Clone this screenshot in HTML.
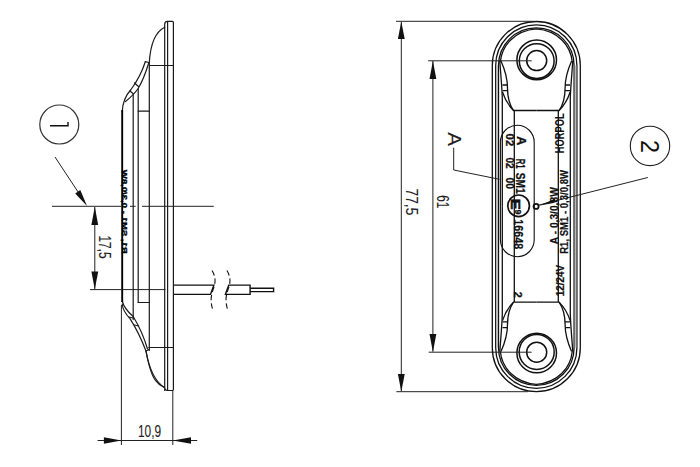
<!DOCTYPE html>
<html><head><meta charset="utf-8">
<style>
html,body{margin:0;padding:0;background:#fff;width:700px;height:467px;overflow:hidden}
svg{display:block}
text{font-family:"Liberation Sans",sans-serif;fill:#111}
text.dim{fill:#1e1e1e;stroke:#1e1e1e;stroke-width:0.12}
</style></head><body>
<svg width="700" height="467" viewBox="0 0 700 467">
<rect width="700" height="467" fill="#fff"/>
<!-- ================= LEFT VIEW ================= -->
<g fill="none" stroke="#1a1a1a" stroke-width="1.2" stroke-linecap="round">
  <!-- flange -->
  <path d="M164.7,390.5 L164.7,24.2 Q164.7,21.4 167.6,21.4 L172.4,21.4 Q173.4,21.4 173.4,22.4 L173.4,389.5 Q173.4,390.5 172.4,390.5 L167.6,390.5 Q164.7,390.5 164.7,387.6"/>
  <line x1="167.6" y1="21.4" x2="167.6" y2="390.5"/>
  <!-- upper arc -->
  <path d="M164.7,27.2 C157,31 150.5,42 149.3,62.5"/>
  <line x1="149.3" y1="65.5" x2="173.4" y2="65.5"/>
  <line x1="149.3" y1="62.5" x2="149.3" y2="350.5"/>
  <line x1="148.8" y1="347.5" x2="173.4" y2="347.5"/>
  <!-- lower arc -->
  <path d="M146,351 C149,368 154,381 164.5,387.5"/>
  <!-- inner verticals -->
  <line x1="138.2" y1="88.7" x2="138.2" y2="302.5"/>
  <line x1="138.2" y1="111.2" x2="149.3" y2="111.2"/>
  <line x1="138.2" y1="302.5" x2="149.3" y2="302.5"/>
  <line x1="133.2" y1="95" x2="133.2" y2="319.6"/>
  <!-- upper tab / curve -->
  <path d="M145.3,61.7 C142,72 138,80 131,89.5 C126,95 122.5,101 122.2,112"/>
  <path d="M148.7,63 C146,72 142,82 138.2,88.5 C135,93 131,97 125.5,101.5"/>
  <line x1="145.3" y1="61.7" x2="148.7" y2="62.5"/>
  <line x1="134.5" y1="83" x2="138.5" y2="86.5"/>
  <line x1="130" y1="91" x2="133.5" y2="94"/>
  <!-- lower tab / curve -->
  <path d="M122.2,304 C122.8,311 126.5,315 130,318.6 C136,328 141,338 146,351 C148,362 151,375 155.7,380.7 C158,384 161,386 164.3,387.5"/>
  <path d="M122.2,301 C124,308 128.5,312.5 133.2,316.5 C139,326 144,337 147.5,349"/>
  <line x1="146" y1="351" x2="149" y2="349.5"/>
  <line x1="129" y1="317" x2="133" y2="318"/>
  <line x1="134.5" y1="325" x2="138.5" y2="326"/>
</g>
<!-- text strip on left view -->
<g>
  <path d="M122.2,110 L122.2,302" stroke="#000" stroke-width="1.9" fill="none"/>
  <text transform="translate(122.3,253.8) rotate(-90) scale(1,-1)" font-size="7.6" font-weight="bold" textLength="84" lengthAdjust="spacingAndGlyphs" style="fill:#000;stroke:#000;stroke-width:0.35">R1, SM1 - 0,3/0,8W</text>
</g>
<!-- left dims -->
<g fill="none" stroke="#222" stroke-width="1">
  <line x1="52" y1="206.3" x2="121.2" y2="206.3"/>
  <line x1="130" y1="206.3" x2="135.6" y2="206.3"/>
  <line x1="142" y1="206.3" x2="213.8" y2="206.3"/>
  <line x1="90" y1="289.6" x2="165.5" y2="289.6"/>
  <line x1="94.8" y1="207" x2="94.8" y2="289"/>
  <line x1="121.4" y1="305" x2="121.4" y2="445"/>
  <line x1="172.8" y1="391" x2="172.8" y2="445"/>
  <line x1="97.6" y1="440.5" x2="197.2" y2="440.5"/>
  <line x1="55" y1="157" x2="84" y2="201"/>
</g>
<g fill="#111" stroke="none">
  <polygon points="94.8,206.7 91.4,224.9 98.2,224.9"/>
  <polygon points="94.8,289.6 91.4,271.5 98.2,271.5"/>
  <polygon points="121.4,440.5 103.9,437.3 103.9,443.7"/>
  <polygon points="172.8,440.5 191,437.3 191,443.7"/>
  <polygon points="87,205.9 80.3,190 75.2,193.4"/>
</g>
<circle cx="59.3" cy="124.5" r="19.5" fill="none" stroke="#333" stroke-width="1.2"/>
<path d="M50,125.7 L68,125.7 L68,121.9" fill="none" stroke="#111" stroke-width="1.4"/>
<text class="dim" transform="translate(98.8,235.4) rotate(90)" font-size="15.8" textLength="23.3" lengthAdjust="spacingAndGlyphs">17,5</text>
<text class="dim" x="138" y="436.9" font-size="17.4" textLength="23.1" lengthAdjust="spacingAndGlyphs">10,9</text>
<!-- cable -->
<g fill="none" stroke="#111" stroke-width="1.4" stroke-linejoin="miter">
  <path d="M173.9,285.1 L213.9,285.1 L210.5,294.4 L173.9,294.4"/>
  <path d="M228.7,285.1 L250.1,285.1 L250.1,294.4 L225.4,294.4 Z"/>
  <path d="M250.1,288.3 L273.6,288.3 L273.6,291.6 L250.1,291.6"/>
  <path d="M212,270.5 C215.5,276 215.8,282 214,287 C211.5,294 209.5,300 213,310.5" stroke-width="1.1" stroke-dasharray="5.5 3"/>
  <path d="M226.9,270.5 C230.4,276 230.7,282 228.9,287 C226.4,294 224.4,300 227.9,310.5" stroke-width="1.1" stroke-dasharray="5.5 3"/>
</g>

<!-- ================= RIGHT VIEW ================= -->
<g fill="none" stroke="#111" stroke-width="1.3">
  <!-- outer stadium contours -->
  <path d="M492.3,65.5 A44,44 0 0 1 580.3,65.5 L580.3,347.7 A44,44 0 0 1 492.3,347.7 Z"/>
  <path d="M495.7,65.5 A40.6,40.6 0 0 1 576.9,65.5 L576.9,347.7 A40.6,40.6 0 0 1 495.7,347.7 Z"/>
  <path d="M498.5,65.5 C498.5,44.7 515.4,27.9 536.3,27.9 C557.2,27.9 574.1,44.7 574.1,65.5 L574.1,347.7 C574.1,368.5 557.2,385.3 536.3,385.3 C515.4,385.3 498.5,368.5 498.5,347.7 Z"/>
  <path d="M500.3,62 C502,45 515,30.5 536.3,28.8 C557.6,30.5 570.6,45 572.3,62"/>
  <path d="M500.3,351.2 C502,368.2 515,382.7 536.3,384.4 C557.6,382.7 570.6,368.2 572.3,351.2"/>
  <line x1="497.1" y1="65.5" x2="497.1" y2="347.7" stroke="#bbb" stroke-width="1.6"/>
  <line x1="575.5" y1="65.5" x2="575.5" y2="347.7" stroke="#bbb" stroke-width="1.6"/>
  <!-- holes -->
  <g stroke-width="1.5">
  <circle cx="536.7" cy="59.9" r="19.8"/>
  <circle cx="536.7" cy="61.1" r="17.4"/>
  <circle cx="536.7" cy="60.6" r="10"/>
  <circle cx="536.7" cy="353" r="19.8"/>
  <circle cx="536.7" cy="351.9" r="17.5"/>
  <circle cx="536.7" cy="352.2" r="10"/>
  </g>
  <!-- lobes (top-left defined, mirrored) -->
  <g id="lobe">
    <path d="M499.8,61 C500.8,75 502,88 502.3,98 L502.3,206.3"/>
    <path d="M501,61 C505,70 507.5,80 507.5,88 C507.5,97 509,104 513.5,110.5 L536.3,110.5"/>
    <path d="M502.5,92 C505,100 509,106 513.5,110.5"/>
    <path d="M502.5,85 L507.5,85 M502.5,90.7 L507.7,90.7"/>
    <line x1="514.3" y1="110.5" x2="514.3" y2="206.3"/>
  </g>
  <use href="#lobe" transform="translate(1072.6,0) scale(-1,1)"/>
  <use href="#lobe" transform="translate(0,412.6) scale(1,-1)"/>
  <use href="#lobe" transform="translate(1072.6,412.6) scale(-1,-1)"/>
  <!-- oval label -->
  <path d="M500.4,142.2 A16.9,16.9 0 0 1 534.2,142.2 L534.2,239.8 A16.9,16.9 0 0 1 500.4,239.8 Z" stroke-width="1.1"/>
  <circle cx="518.6" cy="205.8" r="10.8" stroke-width="1.7"/>
  <circle cx="536.1" cy="206.4" r="2.5" stroke-width="1.8"/>
</g>
<!-- right dims -->
<g fill="none" stroke="#222" stroke-width="1">
  <line x1="396" y1="21.3" x2="534" y2="21.3"/>
  <line x1="396.4" y1="391.7" x2="527.8" y2="391.7"/>
  <line x1="428.2" y1="60.8" x2="531.7" y2="60.8"/>
  <line x1="428.7" y1="352.2" x2="531.7" y2="352.2"/>
  <line x1="401.3" y1="22" x2="401.3" y2="391"/>
  <line x1="432.9" y1="61" x2="432.9" y2="351.5"/>
  <path d="M453.7,147.7 L453.7,170 L499.5,179.3"/>
  <line x1="539" y1="205" x2="647.8" y2="177.5"/>
</g>
<g fill="#111">
  <polygon points="401.3,21.5 397.9,39 404.7,39"/>
  <polygon points="401.3,391.7 397.9,374 404.7,374"/>
  <polygon points="432.9,60.8 429.5,79 436.3,79"/>
  <polygon points="432.9,352.2 429.5,334 436.3,334"/>
  <polygon points="539,205.8 555.5,198.4 554.6,202.8"/>
</g>
<circle cx="650" cy="145.9" r="19.7" fill="none" stroke="#222" stroke-width="1.1"/>
<text class="dim" transform="translate(405.8,188.5) rotate(90)" font-size="15.8" textLength="26.8" lengthAdjust="spacingAndGlyphs">77,5</text>
<text class="dim" transform="translate(437,195.2) rotate(90)" font-size="16.6" textLength="13.2" lengthAdjust="spacingAndGlyphs">61</text>
<text class="dim" transform="translate(448.4,132.3) rotate(90)" font-size="18" textLength="13.8" lengthAdjust="spacingAndGlyphs">A</text>
<text transform="translate(640.3,140) rotate(90)" font-size="26" textLength="13" lengthAdjust="spacingAndGlyphs" dy="-1">2</text>
<!-- label texts -->
<g font-size="12" style="stroke:#111;stroke-width:0.3">
  <text transform="translate(516.6,136.2) rotate(90)" font-size="12.3" font-weight="bold" textLength="9" lengthAdjust="spacingAndGlyphs">A</text>
  <text transform="translate(516.3,158.7) rotate(90)" font-size="12.3" font-weight="bold" textLength="9.8" lengthAdjust="spacingAndGlyphs">R1</text>
  <text transform="translate(516.3,172.7) rotate(90)" font-size="12.3" font-weight="bold" textLength="21" lengthAdjust="spacingAndGlyphs">SM1</text>
  <text transform="translate(505.8,133.6) rotate(90)" font-size="11.7" font-weight="bold" textLength="12.6" lengthAdjust="spacingAndGlyphs">02</text>
  <text transform="translate(505.8,157.4) rotate(90)" font-size="11.7" font-weight="bold" textLength="11.2" lengthAdjust="spacingAndGlyphs">02</text>
  <text transform="translate(505.8,177.5) rotate(90)" font-size="11.7" font-weight="bold" textLength="11.5" lengthAdjust="spacingAndGlyphs">00</text>
  <text transform="translate(510.8,198.8) rotate(90)" font-size="12.3" font-weight="bold" textLength="10.7" lengthAdjust="spacingAndGlyphs" style="stroke-width:0.6">E</text><text transform="translate(514.6,209.6) rotate(90)" font-size="9.5" font-weight="bold" textLength="5" lengthAdjust="spacingAndGlyphs" style="stroke-width:0.3">9</text>
  <text transform="translate(514.2,219.2) rotate(90)" font-size="12.5" font-weight="bold" textLength="30" lengthAdjust="spacingAndGlyphs" style="stroke-width:0.2">16648</text>
  <text transform="translate(514.4,291.8) rotate(90)" font-size="10.5" font-weight="bold" textLength="6" lengthAdjust="spacingAndGlyphs">2</text>
</g>
<g font-weight="bold" style="stroke:#111;stroke-width:0.2">
  <text transform="translate(564.2,153.2) rotate(-90)" font-size="12" textLength="39.8" lengthAdjust="spacingAndGlyphs" style="stroke:none">HORPOL</text>
  <text transform="translate(558.1,244.2) rotate(-90)" font-size="11.5" textLength="57" lengthAdjust="spacingAndGlyphs">A - 0,3/0,8W</text>
  <text transform="translate(568.3,253.8) rotate(-90)" font-size="11.5" textLength="83.8" lengthAdjust="spacingAndGlyphs">R1, SM1 - 0,3/0,8W</text>
  <text transform="translate(563.8,296.3) rotate(-90)" font-size="11.5" textLength="31.5" lengthAdjust="spacingAndGlyphs">12/24V</text>
</g>
</svg>
</body></html>
